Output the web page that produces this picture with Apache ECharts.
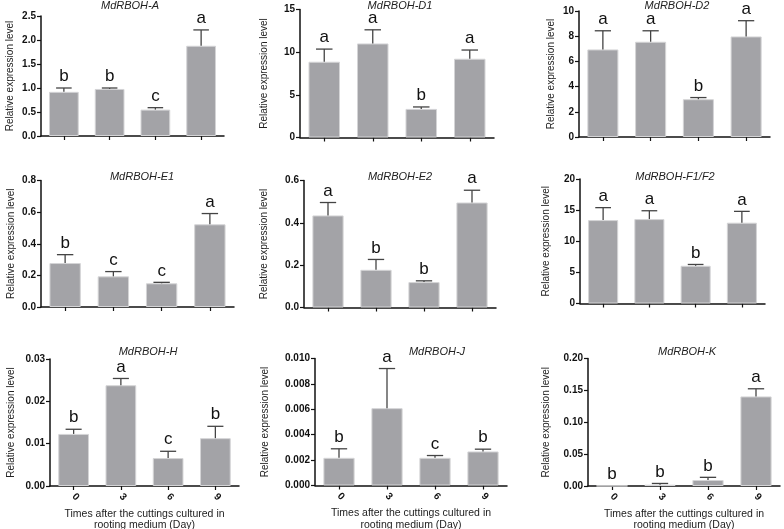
<!DOCTYPE html>
<html><head><meta charset="utf-8">
<script src="https://cdn.jsdelivr.net/npm/echarts@6/dist/echarts.min.js"></script>
<style>html,body{margin:0;padding:0;background:#fff}#c{width:784px;height:529px}</style>
</head><body><div id="c"></div>
<script>
const categories = ['0', '3', '6', '9'];
const genes = ['MdRBOH-A','MdRBOH-D1','MdRBOH-D2','MdRBOH-E1','MdRBOH-E2','MdRBOH-F1/F2','MdRBOH-H','MdRBOH-J','MdRBOH-K'];
const meanA  = [0.92, 0.98, 0.55, 1.88];   const errA  = [1.00, 1.00, 0.59, 2.21];   const letA  = ['b','b','c','a'];
const meanD1 = [8.88, 11.02, 3.35, 9.23];  const errD1 = [10.36, 12.62, 3.58, 10.25]; const letD1 = ['a','a','b','a'];
const meanD2 = [6.95, 7.56, 3.00, 7.98];   const errD2 = [8.43, 8.43, 3.13, 9.23];    const letD2 = ['a','a','b','a'];
const meanE1 = [0.278, 0.194, 0.150, 0.523]; const errE1 = [0.331, 0.224, 0.156, 0.591]; const letE1 = ['b','c','c','a'];
const meanE2 = [0.435, 0.178, 0.120, 0.496]; const errE2 = [0.496, 0.227, 0.126, 0.554]; const letE2 = ['a','b','b','a'];
const meanF  = [13.40, 13.56, 6.06, 12.98]; const errF  = [15.40, 14.90, 6.27, 14.80]; const letF  = ['a','a','b','a'];
const meanH  = [0.0123, 0.0238, 0.0066, 0.0113]; const errH = [0.0134, 0.0254, 0.0082, 0.0141]; const letH = ['b','a','c','b'];
const meanJ  = [0.00218, 0.00609, 0.00218, 0.00268]; const errJ = [0.00289, 0.00921, 0.00236, 0.00286]; const letJ = ['b','a','c','b'];
const meanK  = [0.0003, 0.0020, 0.0094, 0.1405]; const errK = [0.0003, 0.0040, 0.0136, 0.1525]; const letK = ['b','b','b','a'];
const yMax      = [2.5, 15, 10, 0.8, 0.6, 20, 0.03, 0.010, 0.20];
const yInterval = [0.5, 5, 2, 0.2, 0.2, 5, 0.01, 0.002, 0.05];
const yDecimals = [1, 0, 0, 1, 1, 0, 2, 3, 2];
const yAxisName = 'Relative expression level';
const xAxisName = 'Times after the cuttings cultured in\nrooting medium (Day)';

const means = [meanA, meanD1, meanD2, meanE1, meanE2, meanF, meanH, meanJ, meanK];
const errs  = [errA, errD1, errD2, errE1, errE2, errF, errH, errJ, errK];
const lets  = [letA, letD1, letD2, letE1, letE2, letF, letH, letJ, letK];

// layout (px)
const grids = [
  {left: 41,  top: 16,    width: 183, height: 120},
  {left: 300, top: 9.5,   width: 194, height: 128},
  {left: 579, top: 11,    width: 191, height: 126},
  {left: 41,  top: 180.5, width: 193, height: 126.5},
  {left: 304, top: 180.5, width: 192, height: 127},
  {left: 580, top: 179,   width: 185, height: 124.5},
  {left: 50,  top: 359,   width: 189, height: 127},
  {left: 315, top: 358.5, width: 192, height: 127},
  {left: 588, top: 358.5, width: 192, height: 127.5}
];
const nameGaps = [26, 31, 23, 25, 35, 29, 34, 45, 37];
const titlePos = [[130,0],[400,0],[677,0.5],[142,171],[400,171],[675,171],[148,346],[437,346],[687,346]];

const FONT = "'Liberation Sans', Arial, sans-serif";
const option = {
  animation: false,
  backgroundColor: '#fff',
  title: genes.map((g, i) => ({
    text: g, left: titlePos[i][0], top: titlePos[i][1], textAlign: 'center', padding: 0,
    textStyle: {fontFamily: FONT, fontStyle: 'italic', fontWeight: 'normal', fontSize: 11, color: '#222'}
  })),
  grid: grids.map(g => Object.assign({containLabel: false, outerBoundsMode: 'none'}, g)),
  xAxis: genes.map((g, i) => ({
    type: 'category', gridIndex: i, data: categories,
    axisLine: {lineStyle: {color: '#111', width: 1.5}},
    axisTick: {show: true, alignWithLabel: true, length: 4, lineStyle: {color: '#111', width: 1.2}},
    axisLabel: {show: i >= 6, rotate: -45, fontFamily: FONT, fontWeight: 'bold', fontSize: 10, color: '#111', margin: 9},
    name: i >= 6 ? xAxisName : '', nameLocation: 'middle', nameGap: 22,
    nameTextStyle: {fontFamily: FONT, fontSize: 10.5, color: '#222', lineHeight: 11.5}
  })),
  yAxis: genes.map((g, i) => ({
    type: 'value', gridIndex: i, min: 0, max: yMax[i], interval: yInterval[i],
    splitLine: {show: false},
    axisLine: {show: true, lineStyle: {color: '#111', width: 1.5}},
    axisTick: {show: true, length: 4, lineStyle: {color: '#111', width: 1.2}},
    axisLabel: {fontFamily: FONT, fontWeight: 'bold', fontSize: 10, color: '#111', margin: 5,
      formatter: v => Number(v).toFixed(yDecimals[i])},
    name: yAxisName, nameLocation: 'middle', nameGap: nameGaps[i], nameRotate: 90,
    nameTextStyle: {fontFamily: FONT, fontSize: 10, color: '#222'}
  })),
  series: []
};

genes.forEach((g, i) => {
  option.series.push({
    type: 'bar', xAxisIndex: i, yAxisIndex: i, data: means[i], barWidth: '65%',
    itemStyle: {color: '#a3a3a7', borderColor: '#d4d4d6', borderWidth: 1}
  });
  option.series.push({
    type: 'custom', xAxisIndex: i, yAxisIndex: i, z: 5,
    data: means[i].map((m, k) => [k, m, errs[i][k]]),
    renderItem: (params, api) => {
      const k = api.value(0);
      const base = api.coord([k, api.value(1)]);
      const top = api.coord([k, api.value(2)]);
      const bw = api.size([1, 0])[0];
      const cap = bw * 0.17;
      const children = [];
      if (top[1] < base[1] - 0.5) {
        children.push({type: 'line', shape: {x1: base[0], y1: base[1], x2: top[0], y2: top[1]},
          style: {stroke: '#444', lineWidth: 1.3}});
        children.push({type: 'line', shape: {x1: top[0] - cap, y1: top[1], x2: top[0] + cap, y2: top[1]},
          style: {stroke: '#444', lineWidth: 1.3}});
      }
      children.push({type: 'text', style: {text: lets[i][k], x: top[0], y: top[1] - 3,
        textAlign: 'center', textVerticalAlign: 'bottom', fontFamily: FONT, fontSize: 17, fill: '#111'}});
      return {type: 'group', children};
    }
  });
});

const chart = echarts.init(document.getElementById('c'), null, {renderer: 'canvas'});
chart.setOption(option);
</script>
</body></html>
